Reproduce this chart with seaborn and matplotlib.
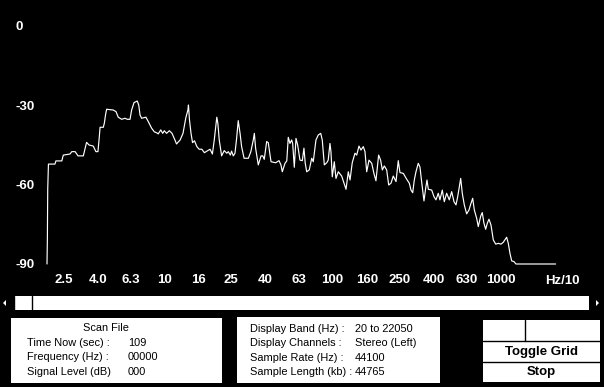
import matplotlib
matplotlib.use("Agg")
import matplotlib.pyplot as plt
from matplotlib.patches import Rectangle, Polygon
import seaborn as sns

# spectrum trace, frequency in Hz/10 and level in dB
freq_hz10 = [
    2.00, 2.01, 2.02, 2.04, 2.23, 2.26, 2.45, 2.50, 2.74, 2.81,
    2.94, 3.06, 3.29, 3.44, 3.56, 3.77, 3.91, 4.02, 4.09, 4.14,
    4.33, 4.39, 4.47, 4.53, 4.96, 5.15, 5.31, 5.57, 5.82, 6.01,
    6.24, 6.38, 6.59, 6.89, 7.03, 7.16, 7.32, 7.76, 8.02, 8.40,
    8.70, 9.00, 9.19, 9.51, 9.77, 9.98, 10.3, 10.7, 11.1, 11.6,
    11.8, 12.4, 12.9, 13.4, 13.8, 13.9, 14.1, 14.4, 14.7, 15.1,
    15.6, 16.1, 16.7, 17.3, 17.9, 18.7, 19.3, 19.8, 20.2, 20.5,
    20.8, 21.2, 21.9, 22.7, 23.5, 24.0, 24.7, 25.1, 25.7, 26.3,
    26.9, 27.5, 28.2, 28.8, 29.8, 31.6, 32.7, 33.8, 34.3, 34.9,
    36.2, 37.6, 38.5, 39.3, 40.6, 41.5, 43.1, 45.9, 48.1, 49.4,
    50.3, 52.2, 53.5, 54.6, 55.9, 57.2, 58.0, 59.3, 60.7, 62.1,
    64.1, 66.2, 67.7, 68.9, 70.3, 72.8, 75.3, 76.9, 79.8, 82.4,
    85.2, 87.0, 89.5, 92.5, 94.4, 96.7, 98.0, 99.8, 102.6, 105.0,
    108.4, 113.5, 117.2, 120.5, 124.3, 127.3, 131.2, 136.2, 139.5, 143.9,
    147.9, 152.7, 156.3, 160.0, 165.1, 171.4, 176.6, 181.6, 188.4, 193.6,
    198.2, 203.6, 210.4, 216.3, 223.2, 230.3, 239.1, 246.6, 252.4, 264.2,
    276.7, 286.8, 293.6, 300.6, 307.2, 314.3, 324.3, 332.0, 339.6, 350.8,
    359.0, 365.6, 372.2, 390.0, 402.3, 413.5, 426.6, 436.6, 450.8, 463.4,
    478.6, 496.2, 512.8, 529.3, 544.0, 556.8, 569.1, 580.2, 593.0, 609.6,
    629.6, 650.2, 668.2, 683.9, 699.2, 722.5, 738.4, 763.3, 779.8, 798.0,
    817.2, 835.6, 855.1, 879.0, 907.0, 937.6, 971.2, 1008, 1040, 1089,
    1114, 1140, 1167, 1205, 1238, 2132,
]
level_db = [
    -90.0, -80.9, -61.7, -52.3, -52.3, -51.1, -51.1, -48.9, -48.5, -47.6,
    -47.6, -49.2, -49.2, -44.1, -45.1, -45.5, -47.6, -47.6, -42.5, -38.4,
    -38.4, -36.8, -33.4, -31.6, -31.9, -32.5, -34.6, -35.4, -35.0, -35.4,
    -35.4, -31.9, -29.1, -28.5, -30.0, -33.8, -35.0, -34.6, -36.3, -38.8,
    -40.1, -40.5, -40.9, -39.4, -40.7, -39.7, -40.7, -39.7, -40.7, -43.5,
    -44.7, -43.2, -40.7, -34.9, -31.9, -30.0, -35.7, -40.7, -44.2, -43.5,
    -45.7, -46.7, -46.7, -48.0, -47.4, -46.7, -48.5, -43.2, -38.2, -34.6,
    -36.9, -43.2, -49.2, -47.2, -48.2, -47.6, -48.9, -47.4, -49.2, -48.2,
    -42.6, -35.9, -40.7, -45.7, -50.1, -50.1, -47.6, -43.2, -40.7, -46.3,
    -52.6, -49.2, -49.2, -50.5, -43.8, -44.2, -51.4, -51.8, -51.0, -52.6,
    -55.2, -52.0, -51.1, -42.2, -44.5, -43.2, -44.5, -53.5, -42.6, -45.1,
    -50.8, -51.0, -46.3, -52.0, -55.2, -54.5, -50.1, -51.4, -43.2, -41.3,
    -40.7, -43.2, -52.6, -51.8, -50.8, -44.5, -47.6, -57.1, -51.4, -57.7,
    -55.2, -56.8, -59.5, -61.8, -55.2, -58.3, -51.8, -48.2, -48.9, -45.5,
    -47.0, -45.7, -47.6, -55.2, -50.8, -52.0, -55.8, -58.6, -48.9, -50.8,
    -54.5, -53.0, -54.5, -60.2, -59.5, -56.8, -58.9, -51.0, -55.5, -55.8,
    -58.0, -59.5, -62.1, -63.1, -58.3, -55.2, -52.0, -53.4, -58.9, -66.2,
    -61.4, -58.3, -61.8, -62.1, -64.6, -65.8, -63.3, -65.8, -62.1, -66.5,
    -63.3, -65.8, -62.7, -66.5, -67.7, -64.6, -60.8, -57.7, -63.3, -67.7,
    -71.1, -69.6, -67.1, -65.2, -69.6, -72.8, -75.9, -71.9, -70.6, -74.6,
    -76.9, -74.6, -73.1, -75.3, -80.9, -82.5, -82.2, -82.5, -81.8, -79.9,
    -82.2, -86.0, -88.8, -89.1, -90.0, -90.0,
]

x_ticks = [2.5, 4.0, 6.3, 10, 16, 25, 40, 63, 100, 160, 250, 400, 630, 1000]
x_tick_labels = ["2.5", "4.0", "6.3", "10", "16", "25", "40", "63", "100",
                 "160", "250", "400", "630", "1000"]
y_ticks = [0, -30, -60, -90]
y_tick_labels = ["0", "-30", "-60", "-90"]

scan_rows = [("Time Now (sec) :", "109"),
             ("Frequency (Hz) :", "00000"),
             ("Signal Level (dB)", "000")]
info_rows = [("Display Band (Hz) :", "20 to 22050"),
             ("Display Channels :", "Stereo (Left)"),
             ("Sample Rate (Hz) :", "44100"),
             ("Sample Length (kb) :", "44765")]

sns.set_theme(style="dark", rc={"axes.facecolor": "black",
                                "figure.facecolor": "black"})
plt.rcParams['font.family'] = ['Liberation Sans', 'DejaVu Sans']

W, H = 604, 387
fig = plt.figure(figsize=(W / 100, H / 100), dpi=100)

# overlay in pixel units for the window chrome
ui = fig.add_axes([0, 0, 1, 1], zorder=0)
ui.set_xlim(0, W)
ui.set_ylim(H, 0)
ui.axis('off')

# scroll bar
ui.add_patch(Rectangle((14, 296), 575, 14, color='white', lw=0))
ui.plot([13.5, 13.5], [296, 310], color='black', lw=1)
ui.plot([31.5, 31.5], [296, 310], color='black', lw=1)
ui.add_patch(Polygon([(3, 303), (6, 300), (6, 306)], color='white', lw=0))
ui.add_patch(Polygon([(599, 303), (596, 300), (596, 306)], color='white', lw=0))

# status panels
ui.add_patch(Rectangle((11, 318), 211, 65, color='white', lw=0))
ui.add_patch(Rectangle((237, 317), 203, 66, color='white', lw=0))
ui.text(106, 328, "Scan File", ha='center', va='center', fontsize=7.9, color='black')
for i, (lab, val) in enumerate(scan_rows):
    ui.text(27, 343 + i * 14.3, lab, ha='left', va='center', fontsize=7.9, color='black')
    ui.text(128, 343 + i * 14.3, val, ha='left', va='center', fontsize=7.9, color='black')
for i, (lab, val) in enumerate(info_rows):
    ui.text(250, 329 + i * 14.3, lab, ha='left', va='center', fontsize=7.9, color='black')
    ui.text(355, 329 + i * 14.3, val, ha='left', va='center', fontsize=7.9, color='black')

# buttons
ui.add_patch(Rectangle((483, 320), 117, 62, color='white', lw=0))
ui.plot([483, 600], [341, 341], color='black', lw=1)
ui.plot([483, 600], [361.5, 361.5], color='black', lw=1)
ui.plot([524.5, 524.5], [320, 341], color='black', lw=1)
ui.text(541.5, 351.5, "Toggle Grid", ha='center', va='center', fontsize=9.5,
        fontweight='bold', color='black')
ui.text(541.5, 372, "Stop", ha='center', va='center', fontsize=9.5,
        fontweight='bold', color='black')
ui.text(562.5, 280.5, "Hz/10", ha='center', va='center', fontsize=9.5,
        fontweight='bold', color='white')

# spectrum axes
ax = fig.add_axes([47 / W, (H - 264) / H, 511.1 / W, 238.5 / H], zorder=1)
ax.patch.set_alpha(0)
sns.lineplot(x=freq_hz10, y=level_db, ax=ax, color='white', lw=0.85,
             estimator=None, clip_on=False)
ax.set_xscale('log')
ax.set_xlim(2, 2205)
ax.set_ylim(-90, 0)
ax.minorticks_off()
ax.set_xticks(x_ticks)
ax.set_xticklabels(x_tick_labels)
ax.set_yticks(y_ticks)
ax.set_yticklabels(y_tick_labels)
ax.tick_params(axis='x', which='both', length=0, pad=7, labelsize=9.5, labelcolor='white')
ax.tick_params(axis='y', which='both', length=0, pad=23, labelsize=9.5, labelcolor='white')
for t in ax.get_xticklabels() + ax.get_yticklabels():
    t.set_fontweight('bold')
for t in ax.get_yticklabels():
    t.set_horizontalalignment('left')
ax.grid(False)
for s in ax.spines.values():
    s.set_visible(False)
ax.set_xlabel("")
ax.set_ylabel("")

fig.savefig("out.png", dpi=100, facecolor='black')
